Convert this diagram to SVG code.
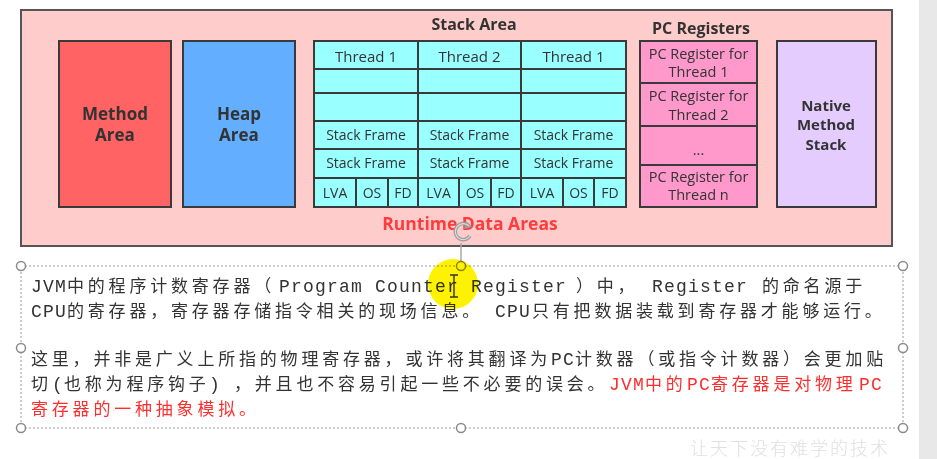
<svg xmlns="http://www.w3.org/2000/svg" width="937" height="459" viewBox="0 0 937 459">
<defs>
<style>
.box{stroke:#3a3a3a;stroke-width:2}
.cy{fill:#99FFFF}
.pc{fill:#FF99CC}
.lbl{font-family:"Open Sans","DejaVu Sans",sans-serif;fill:#333;text-anchor:middle}
.sm{font-size:14px}
.th{font-size:15px}
.pct{font-size:14.5px}
.b{font-weight:bold;font-size:17px}
.nm{font-weight:bold;font-size:15px}
.t{fill:#333}
.red{fill:#FF2E2E}
.m{font-family:"Liberation Mono","Courier New",monospace;font-size:18px;letter-spacing:1.2px}
.c{font-family:"Noto Sans CJK SC","Noto Sans CJK JP",sans-serif;font-size:17px;letter-spacing:3.8px}
.hd{fill:#fff;stroke:#8a8a8a;stroke-width:1.5}
</style>
</defs>
<rect x="0" y="0" width="937" height="459" fill="#fff"/>
<rect x="919" y="0" width="18" height="459" fill="#E8E8E8"/>

<g id="runtime-data-areas">
<rect x="21" y="10" width="871" height="236" fill="#FFCCCC" stroke="#555" stroke-width="2"/>
<text x="470" y="230" class="lbl" style="font-weight:bold;font-size:17.5px;fill:#FF3B3B">Runtime Data Areas</text>
</g>

<g id="method-area">
<rect x="59" y="41" width="112" height="166" fill="#FF6363" class="box"/>
<text class="lbl b" x="115" y="120">Method</text>
<text class="lbl b" x="115" y="141">Area</text>
</g>

<g id="heap-area">
<rect x="183" y="41" width="112" height="166" fill="#63AEFF" class="box"/>
<text class="lbl b" x="239" y="120">Heap</text>
<text class="lbl b" x="239" y="141">Area</text>
</g>

<g id="stack-area">
<text class="lbl" x="474" y="30" style="font-weight:bold;font-size:16px">Stack Area</text>
<g id="thread-1a">
<rect class="box cy" x="314" y="41" width="104" height="28"/>
<rect class="box cy" x="314" y="69" width="104" height="24"/>
<rect class="box cy" x="314" y="93" width="104" height="28"/>
<rect class="box cy" x="314" y="121" width="104" height="28"/>
<rect class="box cy" x="314" y="149" width="104" height="29"/>
<rect class="box cy" x="314" y="178" width="42" height="29"/>
<rect class="box cy" x="356" y="178" width="32" height="29"/>
<rect class="box cy" x="388" y="178" width="30" height="29"/>
<text class="lbl th" x="366" y="62">Thread 1</text>
<text class="lbl sm" x="366" y="140">Stack Frame</text>
<text class="lbl sm" x="366" y="168">Stack Frame</text>
<text class="lbl sm" x="335" y="198">LVA</text>
<text class="lbl sm" x="372" y="198">OS</text>
<text class="lbl sm" x="403" y="198">FD</text>
</g>
<g id="thread-2">
<rect class="box cy" x="418" y="41" width="103" height="28"/>
<rect class="box cy" x="418" y="69" width="103" height="24"/>
<rect class="box cy" x="418" y="93" width="103" height="28"/>
<rect class="box cy" x="418" y="121" width="103" height="28"/>
<rect class="box cy" x="418" y="149" width="103" height="29"/>
<rect class="box cy" x="418" y="178" width="41" height="29"/>
<rect class="box cy" x="459" y="178" width="32" height="29"/>
<rect class="box cy" x="491" y="178" width="30" height="29"/>
<text class="lbl th" x="469.5" y="62">Thread 2</text>
<text class="lbl sm" x="469.5" y="140">Stack Frame</text>
<text class="lbl sm" x="469.5" y="168">Stack Frame</text>
<text class="lbl sm" x="438.5" y="198">LVA</text>
<text class="lbl sm" x="475" y="198">OS</text>
<text class="lbl sm" x="506" y="198">FD</text>
</g>
<g id="thread-1b">
<rect class="box cy" x="521" y="41" width="105" height="28"/>
<rect class="box cy" x="521" y="69" width="105" height="24"/>
<rect class="box cy" x="521" y="93" width="105" height="28"/>
<rect class="box cy" x="521" y="121" width="105" height="28"/>
<rect class="box cy" x="521" y="149" width="105" height="29"/>
<rect class="box cy" x="521" y="178" width="42" height="29"/>
<rect class="box cy" x="563" y="178" width="31" height="29"/>
<rect class="box cy" x="594" y="178" width="32" height="29"/>
<text class="lbl th" x="573.5" y="62">Thread 1</text>
<text class="lbl sm" x="573.5" y="140">Stack Frame</text>
<text class="lbl sm" x="573.5" y="168">Stack Frame</text>
<text class="lbl sm" x="542" y="198">LVA</text>
<text class="lbl sm" x="578.5" y="198">OS</text>
<text class="lbl sm" x="610" y="198">FD</text>
</g>
</g>

<g id="pc-registers">
<text class="lbl" x="701" y="34" style="font-weight:bold;font-size:16px">PC Registers</text>
<rect class="box pc" x="640" y="41" width="117" height="42"/>
<rect class="box pc" x="640" y="83" width="117" height="43"/>
<rect class="box pc" x="640" y="126" width="117" height="39"/>
<rect class="box pc" x="640" y="165" width="117" height="42"/>
<text class="lbl pct" x="698.5" y="59">PC Register for</text>
<text class="lbl pct" x="698.5" y="77">Thread 1</text>
<text class="lbl pct" x="698.5" y="101">PC Register for</text>
<text class="lbl pct" x="698.5" y="119.5">Thread 2</text>
<text class="lbl pct" x="698.5" y="155">...</text>
<text class="lbl pct" x="698.5" y="182">PC Register for</text>
<text class="lbl pct" x="698.5" y="200">Thread n</text>
</g>

<g id="native-method-stack">
<rect class="box" x="777" y="41" width="99" height="166" fill="#E5CCFF"/>
<text class="lbl nm" x="826" y="111">Native</text>
<text class="lbl nm" x="826" y="130">Method</text>
<text class="lbl nm" x="826" y="150">Stack</text>
</g>

<g id="connectors"/>

<g id="selection">
<rect x="21" y="266" width="882" height="162" fill="none" stroke="#9a9a9a" stroke-width="1" stroke-dasharray="2,2"/>
<line x1="461" y1="243" x2="461" y2="262" stroke="#aaa" stroke-width="1.5"/>
<path d="M469,226 A8,8 0 1 0 470,236" fill="none" stroke="#9c9c9c" stroke-width="3.5"/>
<path d="M466,221 L472,227 L464,229 Z" fill="#9c9c9c"/>
<path d="M469,226 A8,8 0 1 0 470,236" fill="none" stroke="#dcdcdc" stroke-width="1.2"/>
<circle class="hd" cx="21" cy="266" r="4.5"/>
<circle class="hd" cx="461" cy="266" r="4.5"/>
<circle class="hd" cx="903" cy="266" r="4.5"/>
<circle class="hd" cx="21" cy="348" r="4.5"/>
<circle class="hd" cx="903" cy="348" r="4.5"/>
<circle class="hd" cx="21" cy="428" r="4.5"/>
<circle class="hd" cx="461" cy="428" r="4.5"/>
<circle class="hd" cx="903" cy="428" r="4.5"/>
</g>

<g id="description">
<text y="292" class="t"><tspan class="m" x="31">JVM</tspan><tspan class="c" x="67">中的程序计数寄存器（</tspan><tspan class="m" x="279">Program Counter Register</tspan><tspan class="c" x="576">）中，</tspan><tspan class="m" x="652">Register</tspan><tspan class="c" x="762">的命名源于</tspan></text>
<text y="316.5" class="t"><tspan class="m" x="31">CPU</tspan><tspan class="c" x="67">的寄存器，寄存器存储指令相关的现场信息。</tspan><tspan class="m" x="495">CPU</tspan><tspan class="c" x="532">只有把数据装载到寄存器才能够运行。</tspan></text>
<text y="365" class="t"><tspan class="c" x="31">这里，并非是广义上所指的物理寄存器，或许将其翻译为</tspan><tspan class="m" x="551">PC</tspan><tspan class="c" x="575">计数器（或指令计数器）会更加贴</tspan></text>
<text y="390" class="t"><tspan class="c" x="31">切</tspan><tspan class="m" x="52">(</tspan><tspan class="c" x="64">也称为程序钩子</tspan><tspan class="m" x="209">)</tspan><tspan class="c" x="234">，并且也不容易引起一些不必要的误会。</tspan><tspan class="m red" x="609">JVM</tspan><tspan class="c red" x="645">中的</tspan><tspan class="m red" x="687">PC</tspan><tspan class="c red" x="711">寄存器是对物理</tspan><tspan class="m red" x="859">PC</tspan></text>
<text y="414.5" class="red"><tspan class="c" x="31">寄存器的一种抽象模拟。</tspan></text>
</g>

<g id="cursor">
<circle cx="453" cy="284" r="25" fill="#FFF200" style="mix-blend-mode:multiply"/>
<path d="M450,275 h8 M454,275 v22 M450,297 h8" stroke="#333" stroke-width="1.4" fill="none"/>
</g>

<text x="690" y="455" style="font-family:'Noto Sans CJK SC',sans-serif;font-size:18px;letter-spacing:2px;fill:#E0E0E0;font-weight:300">让天下没有难学的技术</text>
</svg>
